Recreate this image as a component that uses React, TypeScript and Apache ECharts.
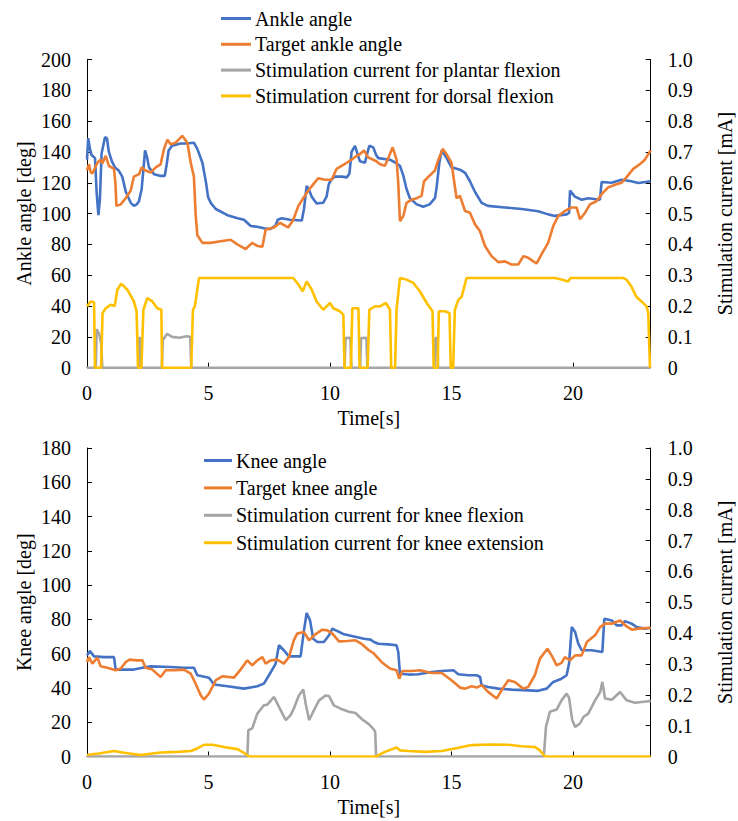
import React, { useEffect, useRef } from "react";
import * as echarts from "echarts";

// ---------- Top chart: ankle ----------
const ankleT = [0, 0.05, 0.12, 0.19, 0.33, 0.4, 0.47, 0.53, 0.6, 0.74, 0.82, 0.9, 1.02, 1.15, 1.3, 1.45, 1.6, 1.8, 1.93, 2.05, 2.14, 2.25, 2.33, 2.39, 2.48, 2.55, 2.76, 3.0, 3.2, 3.28, 3.36, 3.5, 3.85, 4.1, 4.4, 4.54, 4.75, 4.9, 4.98, 5.09, 5.3, 5.78, 6.2, 6.46, 6.74, 7.0, 7.28, 7.53, 7.75, 7.85, 8.01, 8.35, 8.84, 8.93, 9.04, 9.12, 9.25, 9.45, 9.72, 9.86, 9.95, 10.05, 10.2, 10.5, 10.69, 10.8, 10.89, 11.03, 11.15, 11.23, 11.44, 11.55, 11.62, 11.78, 11.9, 11.99, 12.47, 12.7, 12.88, 13.02, 13.15, 13.29, 13.57, 13.84, 14.1, 14.32, 14.39, 14.5, 14.6, 14.8, 15.0, 15.35, 15.56, 15.76, 15.97, 16.24, 16.5, 17.2, 17.89, 18.57, 18.98, 19.26, 19.74, 19.84, 19.88, 20.08, 20.36, 20.63, 21.11, 21.18, 21.59, 22.0, 22.4, 22.69, 23.2];
const ankleAngle = [135, 149, 142, 138, 136, 113, 99, 109, 139, 149.5, 149, 140, 134, 130, 128, 124, 114, 107, 105, 106, 108, 116, 130, 141, 136, 130, 125.6, 124.5, 124.5, 132, 141, 144, 145.5, 145.5, 146, 142, 133, 120, 111, 107, 103, 99, 97, 96, 92, 91.5, 90.5, 90, 92, 96, 97, 96, 95.5, 103, 118, 116, 111, 106.5, 107, 111, 119, 122, 124, 124, 123.5, 126, 140, 144, 138, 134, 133, 140, 144, 143, 138, 136, 135, 133, 131, 124.6, 116, 110, 106, 104.5, 106, 110, 117, 133, 141, 136, 130, 128.5, 126.5, 121, 114, 107, 105, 104, 103, 101.5, 99.5, 98.5, 99.5, 100.5, 115, 111, 109, 110, 109, 120.5, 120, 122, 121, 119.8, 121];

const targetAnkleT = [0, 0.08, 0.15, 0.22, 0.43, 0.56, 0.63, 0.77, 0.9, 1.11, 1.17, 1.21, 1.39, 1.59, 1.8, 1.93, 2.14, 2.25, 2.41, 2.62, 2.83, 3.03, 3.17, 3.31, 3.44, 3.65, 3.92, 4.13, 4.27, 4.4, 4.47, 4.54, 4.75, 5.09, 5.5, 5.91, 6.19, 6.53, 6.8, 7.01, 7.22, 7.35, 7.7, 7.94, 8.28, 8.49, 8.7, 8.9, 9.11, 9.31, 9.52, 9.79, 10.07, 10.27, 10.48, 10.69, 10.89, 11.1, 11.23, 11.4, 11.57, 11.91, 12.06, 12.26, 12.4, 12.58, 12.74, 12.81, 12.88, 13.02, 13.15, 13.36, 13.57, 13.77, 13.87, 14.1, 14.32, 14.46, 14.64, 14.8, 15.0, 15.1, 15.21, 15.35, 15.56, 15.76, 15.97, 16.17, 16.38, 16.65, 16.93, 17.2, 17.47, 17.75, 17.96, 18.16, 18.5, 18.78, 18.98, 19.19, 19.4, 19.67, 19.95, 20.15, 20.29, 20.5, 20.7, 20.97, 21.18, 21.45, 21.79, 22.0, 22.2, 22.48, 22.75, 22.96, 23.2];
const targetAnkleAngle = [128, 132, 127, 126, 133, 135, 132.5, 137.5, 131, 129, 120, 105, 106, 110, 115, 124, 125.6, 130, 128, 126.7, 130, 132, 142, 148, 145, 146, 150.5, 146, 133, 124, 100, 86, 81, 81, 82, 83, 80, 77, 81, 79, 78.5, 89.5, 91, 94, 91, 96, 105, 110, 115, 119, 123, 122, 122, 129, 131, 133, 135, 137.5, 138.5, 141, 136.5, 134, 132, 131, 136, 143, 135, 120, 95, 98.5, 107, 109, 110, 111.5, 121, 124.6, 128, 135, 142, 138.5, 133, 122, 110, 111.5, 101.7, 100.5, 93, 88.7, 79, 72.4, 68.5, 69, 67, 67, 72.4, 71.3, 67.6, 75.7, 81, 92, 98.5, 101.7, 104, 104, 96.3, 100.6, 106, 108, 112.6, 117, 119, 120, 123.5, 129, 132, 135, 141];

const plantarT = [0, 0.36, 0.4, 0.5, 0.58, 0.63, 2.12, 2.14, 2.21, 2.23, 3.08, 3.12, 3.3, 3.5, 3.8, 4.1, 4.25, 4.29, 10.6, 10.64, 10.84, 10.88, 11.24, 11.28, 11.5, 11.54, 14.3, 14.34, 14.42, 14.45, 23.2];
const plantarCurrent = [0, 0, 0.125, 0.11, 0.08, 0, 0, 0.096, 0.096, 0, 0, 0.09, 0.11, 0.1, 0.097, 0.102, 0.1, 0, 0, 0.096, 0.097, 0, 0, 0.096, 0.097, 0, 0, 0.096, 0.096, 0, 0];

const dorsalT = [0, 0.15, 0.29, 0.33, 0.58, 0.64, 0.77, 0.97, 1.14, 1.25, 1.41, 1.66, 1.93, 2.04, 2.1, 2.24, 2.32, 2.48, 2.69, 2.89, 3.06, 3.09, 4.29, 4.36, 4.44, 4.61, 8.49, 8.7, 8.88, 9.04, 9.25, 9.45, 9.72, 9.86, 10.0, 10.14, 10.41, 10.55, 10.6, 10.86, 10.92, 11.17, 11.22, 11.55, 11.62, 11.85, 12.06, 12.3, 12.47, 12.52, 12.68, 12.74, 12.88, 13.15, 13.43, 13.7, 13.98, 14.22, 14.27, 14.43, 14.48, 14.73, 14.92, 14.97, 15.07, 15.14, 15.28, 15.42, 15.62, 19.26, 19.53, 19.8, 19.9, 22.07, 22.2, 22.4, 22.61, 22.82, 23.03, 23.1, 23.17];
const dorsalCurrent = [0.199, 0.215, 0.212, 0, 0, 0.177, 0.193, 0.204, 0.2, 0.253, 0.273, 0.253, 0.215, 0.183, 0, 0, 0.188, 0.226, 0.215, 0.193, 0.188, 0, 0, 0.188, 0.2, 0.291, 0.291, 0.27, 0.248, 0.28, 0.253, 0.215, 0.188, 0.199, 0.21, 0.193, 0.183, 0.172, 0, 0, 0.193, 0.193, 0, 0, 0.188, 0.199, 0.199, 0.21, 0.188, 0, 0, 0.188, 0.291, 0.286, 0.275, 0.248, 0.21, 0.183, 0, 0, 0.183, 0.183, 0.177, 0, 0, 0.188, 0.22, 0.23, 0.291, 0.291, 0.286, 0.28, 0.291, 0.291, 0.286, 0.264, 0.23, 0.215, 0.199, 0.177, 0];

// ---------- Bottom chart: knee ----------
const kneeT = [0, 0.12, 0.29, 0.7, 1.11, 1.18, 1.52, 1.93, 2.28, 2.62, 3.44, 3.99, 4.4, 4.54, 5.02, 5.23, 5.78, 6.46, 7.01, 7.28, 7.49, 7.76, 7.9, 8.1, 8.31, 8.79, 8.93, 9.04, 9.18, 9.31, 9.48, 9.75, 9.96, 10.1, 10.3, 10.58, 10.99, 11.4, 11.67, 11.81, 11.99, 12.4, 12.74, 12.81, 12.88, 13.24, 13.64, 14.18, 14.6, 15.08, 15.28, 15.69, 16.04, 16.18, 16.24, 16.51, 16.93, 17.47, 18.16, 18.57, 18.92, 19.19, 19.53, 19.74, 19.84, 19.95, 20.09, 20.22, 20.36, 20.77, 21.21, 21.29, 21.6, 21.8, 22.0, 22.14, 22.42, 22.62, 22.96, 23.2];
const kneeAngle = [59, 61.5, 58.4, 58, 58, 50.7, 50.7, 50.7, 51.8, 52.6, 52.2, 51.8, 51.8, 47.4, 46, 42, 41, 39.6, 41, 42.5, 47.4, 54, 64.9, 62, 58.4, 58.4, 73.6, 83.7, 79.4, 68.7, 66.8, 66.8, 70.7, 74.6, 73.2, 71.3, 70, 68.7, 68.2, 66.8, 65.8, 65.4, 64.9, 61, 48.3, 47.8, 48, 49.3, 49.9, 50.3, 48, 47.4, 47.4, 46.4, 41.6, 40.6, 39.6, 39, 38.6, 38.3, 39.6, 43.5, 45.4, 47.4, 54.2, 75.5, 72.6, 65.8, 62, 62, 61, 80.4, 79.4, 76.5, 76.5, 79, 77.5, 75.5, 74.6, 75.1];

const targetKneeT = [0, 0.08, 0.22, 0.43, 0.56, 0.84, 1.18, 1.39, 1.59, 1.73, 2.07, 2.28, 2.41, 2.69, 3.03, 3.24, 3.58, 3.99, 4.27, 4.47, 4.68, 4.81, 5.02, 5.3, 5.57, 6.05, 6.32, 6.6, 6.8, 7.01, 7.22, 7.35, 7.56, 7.83, 8.1, 8.31, 8.51, 8.65, 8.93, 9.14, 9.34, 9.68, 9.89, 10.1, 10.37, 10.71, 11.05, 11.33, 11.6, 11.78, 12.13, 12.47, 12.74, 12.85, 12.98, 13.36, 13.7, 14.18, 14.6, 15.0, 15.35, 15.56, 15.83, 16.04, 16.24, 16.51, 16.86, 17.06, 17.34, 17.61, 17.95, 18.16, 18.43, 18.64, 18.95, 19.12, 19.33, 19.53, 19.67, 19.88, 20.09, 20.36, 20.57, 20.91, 21.12, 21.32, 21.6, 21.94, 22.21, 22.42, 22.69, 23.2];
const targetKneeAngle = [55, 58, 54.2, 57.7, 52.6, 51.8, 50.3, 51.3, 55, 56.5, 56.1, 56.1, 51.8, 50.7, 46.4, 50.3, 50.3, 50.7, 48.3, 42.5, 35.7, 33.2, 36.7, 44.5, 46.8, 46, 50.7, 56.1, 53.2, 56.1, 58, 54.2, 56.1, 56.5, 54.2, 58, 67.8, 71.7, 72.6, 67.8, 70.7, 74, 73.6, 71.7, 67.2, 67.4, 67.8, 65.4, 62, 60.4, 55, 51.3, 50.3, 45.4, 49.9, 49.9, 50.3, 48.7, 48.7, 44.5, 40.2, 39.6, 41, 40.2, 41.6, 37.7, 33.8, 38.6, 44.5, 43.5, 39.6, 40.6, 47.4, 57.1, 62.9, 59, 53.2, 54.6, 58, 56.1, 59, 59, 66.8, 70.7, 75.5, 77.5, 77.5, 79.4, 75.9, 74, 74.6, 75.1];

const kneeFlexT = [0, 6.6, 6.64, 6.8, 7.01, 7.28, 7.42, 7.7, 7.9, 8.18, 8.38, 8.51, 8.72, 8.9, 9.0, 9.14, 9.34, 9.55, 9.82, 9.96, 10.16, 10.44, 10.78, 11.05, 11.33, 11.6, 11.8, 11.86, 11.9, 18.8, 18.89, 19.05, 19.33, 19.53, 19.74, 19.84, 19.97, 20.09, 20.29, 20.43, 20.63, 20.91, 21.12, 21.21, 21.32, 21.6, 21.94, 22.21, 22.55, 23.2];
const kneeFlexCurrent = [0, 0, 0.085, 0.091, 0.139, 0.166, 0.168, 0.193, 0.161, 0.118, 0.134, 0.155, 0.198, 0.217, 0.171, 0.118, 0.15, 0.182, 0.198, 0.196, 0.166, 0.155, 0.145, 0.141, 0.12, 0.105, 0.088, 0.08, 0, 0, 0.096, 0.145, 0.152, 0.182, 0.204, 0.19, 0.118, 0.096, 0.107, 0.128, 0.139, 0.182, 0.209, 0.242, 0.188, 0.184, 0.209, 0.182, 0.174, 0.18];

const kneeExtT = [0, 0.29, 0.49, 1.11, 1.52, 2.21, 3.03, 3.72, 4.27, 4.54, 4.81, 5.16, 5.64, 6.19, 6.46, 6.67, 11.89, 12.26, 12.74, 12.88, 13.24, 13.9, 14.6, 15.14, 15.83, 16.65, 17.34, 17.88, 18.43, 18.64, 18.85, 23.2];
const kneeExtCurrent = [0.005, 0.008, 0.01, 0.018, 0.012, 0.005, 0.013, 0.015, 0.018, 0.026, 0.038, 0.038, 0.031, 0.024, 0.012, 0, 0, 0.015, 0.029, 0.02, 0.018, 0.015, 0.018, 0.026, 0.037, 0.039, 0.038, 0.033, 0.031, 0.02, 0, 0];

// ---------- Axes ticks ----------
const xMax = 23.2;
const xTicks = [0, 5, 10, 15, 20];
const ankleTicks = [0, 20, 40, 60, 80, 100, 120, 140, 160, 180, 200];
const kneeTicks = [0, 20, 40, 60, 80, 100, 120, 140, 160, 180];
const currentTicks = [0, 0.1, 0.2, 0.3, 0.4, 0.5, 0.6, 0.7, 0.8, 0.9, 1.0];

const topLegend = ["Ankle angle", "Target ankle angle", "Stimulation current for plantar flexion", "Stimulation current for dorsal flexion"];
const bottomLegend = ["Knee angle", "Target knee angle", "Stimulation current for knee flexion", "Stimulation current for knee extension"];
const xName = "Time[s]";
const ankleName = "Ankle angle [deg]";
const kneeName = "Knee angle [deg]";
const currentName = "Stimulation current [mA]";

const BLUE = "#4472C4";
const ORANGE = "#ED7D31";
const GRAY = "#A5A5A5";
const YELLOW = "#FFC000";
const COLORS = [BLUE, ORANGE, GRAY, YELLOW];
const FONT = "Liberation Serif";

const zip = (t: number[], v: number[]) => t.map((x, i) => [x, v[i]]);

export default function App() {
  const ref = useRef<HTMLDivElement>(null);
  useEffect(() => {
    if (!ref.current) return;
    const chart = echarts.init(ref.current, undefined, { renderer: "svg" });
    const mkX = (gridIndex: number) => ({
      type: "value",
      gridIndex,
      min: 0,
      max: xMax,
      interval: 5,
      axisLine: { lineStyle: { color: "#000", width: 1 } },
      axisTick: { inside: true, length: 5, lineStyle: { color: "#000" } },
      axisLabel: { show: false },
      splitLine: { show: false },
    });
    const mkY = (gridIndex: number, max: number, interval: number, position: string) => ({
      type: "value",
      gridIndex,
      min: 0,
      max,
      interval,
      position,
      axisLine: { show: true, lineStyle: { color: "#000", width: 1 } },
      axisTick: { show: true, inside: true, length: 5, lineStyle: { color: "#000" } },
      axisLabel: { show: false },
      splitLine: { show: false },
    });
    const line = (name: string, data: number[][], color: string, xAxisIndex: number, yAxisIndex: number) => ({
      name,
      type: "line",
      data,
      xAxisIndex,
      yAxisIndex,
      showSymbol: false,
      symbol: "none",
      lineStyle: { color, width: 2.6 },
      itemStyle: { color },
      emphasis: { disabled: true },
    });
    chart.setOption({
      animation: false,
      backgroundColor: "#fff",
      grid: [
        { left: 87, right: 87.3, top: 59.5, bottom: 453.3 },
        { left: 87, right: 87.3, top: 448, bottom: 64.5 },
      ],
      xAxis: [mkX(0), mkX(1)],
      yAxis: [mkY(0, 200, 20, "left"), mkY(0, 1, 0.1, "right"), mkY(1, 180, 20, "left"), mkY(1, 1, 0.1, "right")],
      series: [
        line(topLegend[0], zip(ankleT, ankleAngle), BLUE, 0, 0),
        line(topLegend[1], zip(targetAnkleT, targetAnkleAngle), ORANGE, 0, 0),
        line(topLegend[2], zip(plantarT, plantarCurrent), GRAY, 0, 1),
        line(topLegend[3], zip(dorsalT, dorsalCurrent), YELLOW, 0, 1),
        line(bottomLegend[0], zip(kneeT, kneeAngle), BLUE, 1, 2),
        line(bottomLegend[1], zip(targetKneeT, targetKneeAngle), ORANGE, 1, 2),
        line(bottomLegend[2], zip(kneeFlexT, kneeFlexCurrent), GRAY, 1, 3),
        line(bottomLegend[3], zip(kneeExtT, kneeExtCurrent), YELLOW, 1, 3),
      ],
    });

    // Texts drawn as graphic elements (font honoured), positioned via the axes' own scales.
    const px = (xi: number, v: number) => chart.convertToPixel({ xAxisIndex: xi } as any, v) as unknown as number;
    const py = (yi: number, v: number) => chart.convertToPixel({ yAxisIndex: yi } as any, v) as unknown as number;
    const T = (text: string, x: number, y: number, align: string, vAlign: string, rotation = 0) => ({
      type: "text",
      x,
      y,
      rotation,
      silent: true,
      style: {
        text,
        x: 0,
        y: 0,
        fontFamily: FONT,
        fontSize: 20,
        fill: "#000",
        align,
        verticalAlign: vAlign,
        textAlign: align,
        textVerticalAlign: vAlign,
      },
    });
    const els: any[] = [];
    const panels = [
      { xi: 0, yl: 0, yr: 1, lt: ankleTicks, ln: ankleName, legend: topLegend, lx: 221, lw: 30, ly0: 18.5, ldy: 25.8, nameY: 418, rnX: 725 },
      { xi: 1, yl: 2, yr: 3, lt: kneeTicks, ln: kneeName, legend: bottomLegend, lx: 204, lw: 28, ly0: 460.5, ldy: 27.4, nameY: 807, rnX: 725 },
    ];
    panels.forEach((p) => {
      const x0 = px(p.xi, 0);
      const x1 = px(p.xi, xMax);
      const yb = py(p.yl, 0);
      const yt = py(p.yl, p.lt[p.lt.length - 1]);
      const yc = (yb + yt) / 2;
      xTicks.forEach((v) => els.push(T(String(v), px(p.xi, v), yb + 25.5, "center", "middle")));
      p.lt.forEach((v) => els.push(T(String(v), x0 - 16, py(p.yl, v), "right", "middle")));
      currentTicks.forEach((v) =>
        els.push(T(v === 0 ? "0" : v.toFixed(1), x1 + 17, py(p.yr, v), "left", "middle"))
      );
      els.push(T(xName, (x0 + x1) / 2, p.nameY, "center", "middle"));
      els.push(T(p.ln, 24, yc, "center", "middle", Math.PI / 2));
      els.push(T(currentName, p.rnX, yc, "center", "middle", Math.PI / 2));
      p.legend.forEach((name, i) => {
        const y = p.ly0 + i * p.ldy;
        els.push({
          type: "line",
          silent: true,
          shape: { x1: p.lx, y1: y, x2: p.lx + p.lw, y2: y },
          style: { stroke: COLORS[i], lineWidth: 3 },
        });
        els.push(T(name, p.lx + p.lw + 4, y, "left", "middle"));
      });
    });
    chart.setOption({ graphic: { elements: els } });
    return () => chart.dispose();
  }, []);
  return (
    <div
      ref={ref}
      style={{ position: "absolute", left: 0, top: 0, width: 738, height: 821, background: "#fff" }}
    />
  );
}
